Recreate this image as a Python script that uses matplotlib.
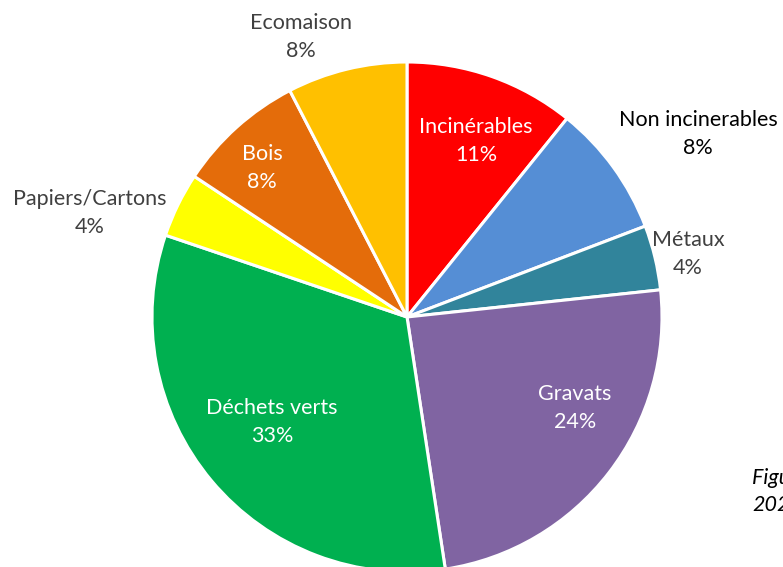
import matplotlib.pyplot as plt

# Répartition des déchets (en % du tonnage)
categories = ["Incinérables", "Non incinerables", "Métaux", "Gravats",
              "Déchets verts", "Papiers/Cartons", "Bois", "Ecomaison"]
values = [10.8, 8.4, 4.1, 24.3, 32.6, 4.1, 8.1, 7.6]
colors = ["#FF0000", "#558ED5", "#31849B", "#8064A2",
          "#00B050", "#FFFF00", "#E46C0A", "#FFC000"]
label_colors = ["white", "black", "#404040", "white",
                "white", "#404040", "white", "#404040"]
# position des étiquettes (rayon = 1)
label_pos = [(0.271, 0.690), (1.141, 0.718), (1.102, 0.247), (0.659, -0.357),
             (-0.529, -0.412), (-1.243, 0.408), (-0.569, 0.584), (-0.416, 1.098)]

plt.rcParams["font.family"] = ["Lato", "DejaVu Sans"]

fig = plt.figure(figsize=(7.83, 5.67), dpi=100)
ax = fig.add_axes([0, 0, 1, 1])

wedges, _ = ax.pie(values, colors=colors, startangle=90, counterclock=False,
                   radius=1, wedgeprops=dict(edgecolor="white", linewidth=2.2))

# le camembert déborde en bas de l'image, comme dans l'original
r = 255.0
ax.set_xlim(-407 / r, (783 - 407) / r)
ax.set_ylim(-(567 - 317) / r, 317 / r)
ax.set_aspect("equal")
ax.axis("off")

total = sum(values)
for name, v, c, (x, y) in zip(categories, values, label_colors, label_pos):
    ax.text(x, y, f"{name}\n{v / total * 100:.0f}%", ha="center", va="center",
            color=c, fontsize=15.5, linespacing=1.45)

fig.text(752 / 783, 1 - 478 / 567, "Figure 1 : Répartition des déchets collectés en",
         fontsize=15.5, style="italic", ha="left", va="center")
fig.text(752 / 783, 1 - 505 / 567, "2023", fontsize=15.5, style="italic",
         ha="left", va="center")

fig.savefig("out.png", dpi=100)
